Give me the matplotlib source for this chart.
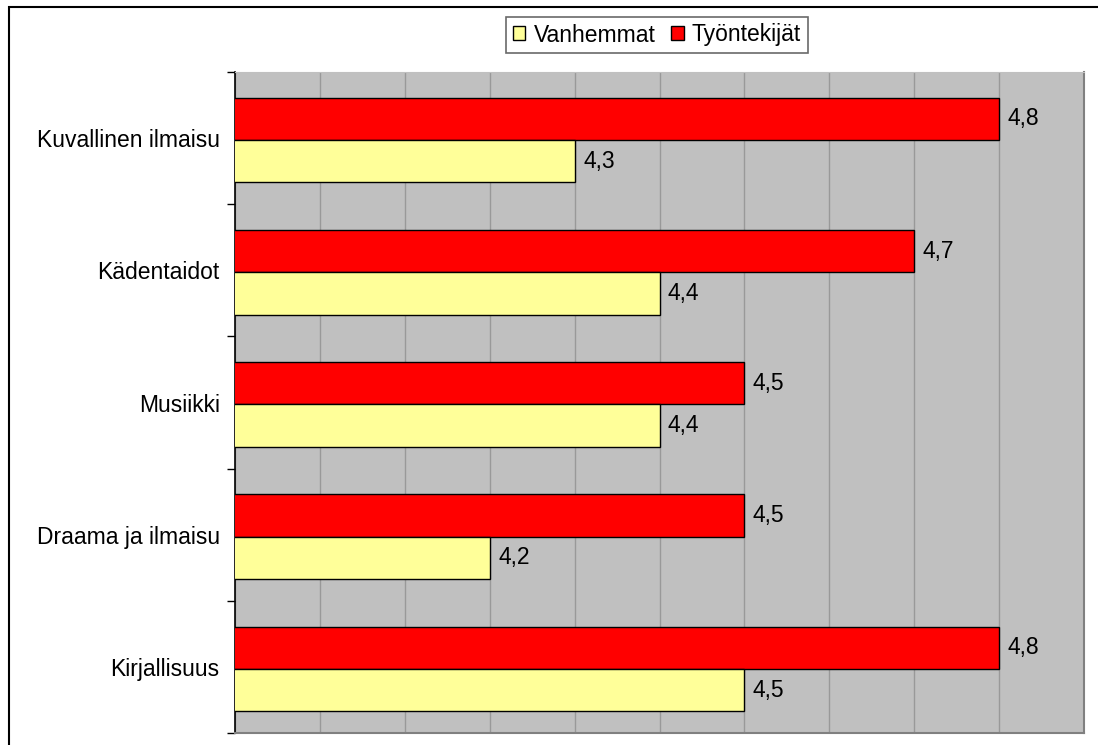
import matplotlib.pyplot as plt
import matplotlib.patches as mpatches
import numpy as np

plt.rcParams['font.family'] = ['Liberation Sans', 'DejaVu Sans']

# Data
categories = ['Kuvallinen ilmaisu', 'Kädentaidot', 'Musiikki', 'Draama ja ilmaisu', 'Kirjallisuus']
vanhemmat = [4.3, 4.4, 4.4, 4.2, 4.5]
tyontekijat = [4.8, 4.7, 4.5, 4.5, 4.8]
series_names = ['Vanhemmat', 'Työntekijät']

W, H = 1098, 745
fs = 16.5
fig = plt.figure(figsize=(W / 100, H / 100), dpi=100)
ax = fig.add_axes([235 / W, (H - 733) / H, (1084 - 235) / W, (733 - 72) / H])

# outer frame (only left and top visible)
fig.add_artist(mpatches.Rectangle((9 / W, -0.1), 1.2, 1.1 - 7 / H, transform=fig.transFigure,
                                  fill=False, edgecolor='black', linewidth=1.5))

ax.set_facecolor('#c0c0c0')
y = np.arange(len(categories))
bh = 0.32
off = 0.015
ax.barh(y - bh / 2 + off, tyontekijat, height=bh, color='#ff0000', edgecolor='black',
        linewidth=1, label=series_names[1], zorder=3)
ax.barh(y + bh / 2 + off, vanhemmat, height=bh, color='#ffff99', edgecolor='black',
        linewidth=1, label=series_names[0], zorder=3)

for yi, v in zip(y, tyontekijat):
    ax.text(v + 0.01, yi - bh / 2 + off, f'{v:.1f}'.replace('.', ','), va='center', ha='left', fontsize=fs)
for yi, v in zip(y, vanhemmat):
    ax.text(v + 0.01, yi + bh / 2 + off, f'{v:.1f}'.replace('.', ','), va='center', ha='left', fontsize=fs)

ax.set_xlim(3.9, 4.9)
ax.set_ylim(len(categories) - 0.5, -0.5)
ax.set_xticks(np.arange(3.9, 4.91, 0.1))
ax.xaxis.grid(True, color='#999999', linewidth=1, zorder=0)
ax.set_axisbelow(True)
ax.tick_params(axis='x', length=0, labelbottom=False)

ax.set_yticks(y)
ax.set_yticklabels(categories, fontsize=fs)
ax.tick_params(axis='y', length=0, pad=11)
ax.set_yticks(np.arange(-0.5, len(categories) + 0.5, 1), minor=True)
ax.tick_params(axis='y', which='minor', length=6, width=1, color='black', direction='out')

ax.spines['left'].set_color('black')
ax.spines['left'].set_linewidth(1.2)
for s in ['right', 'bottom']:
    ax.spines[s].set_color('#808080')
    ax.spines[s].set_linewidth(1.5)
ax.spines['top'].set_color('#c0c0c0')

handles = [mpatches.Patch(facecolor='#ffff99', edgecolor='black', label=series_names[0]),
           mpatches.Patch(facecolor='#ff0000', edgecolor='black', label=series_names[1])]
leg = fig.legend(handles=handles, loc='center', bbox_to_anchor=(657 / W, 1 - 35 / H), ncol=2,
                 fontsize=fs, frameon=True, fancybox=False, edgecolor='#444444',
                 handlelength=0.55, handleheight=0.55, handletextpad=0.35, columnspacing=0.7,
                 borderpad=0.3, borderaxespad=0)
leg.get_frame().set_linewidth(1.2)

fig.savefig('out.png', dpi=100)
